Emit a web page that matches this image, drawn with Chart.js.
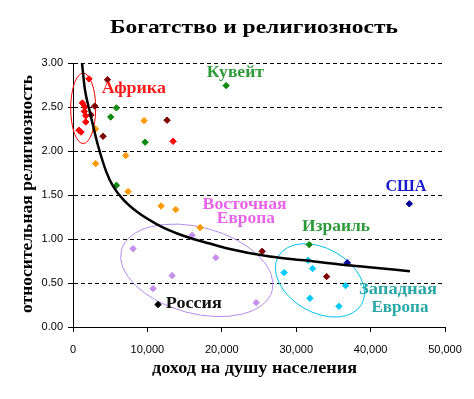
<!DOCTYPE html>
<html><head><meta charset="utf-8">
<script src="https://cdn.jsdelivr.net/npm/chart.js@4/dist/chart.umd.min.js"></script>
<style>html,body{margin:0;padding:0;background:#fff}#wrap{width:474px;height:399px}</style>
</head><body><div id="wrap"><canvas id="c" width="474" height="399"></canvas></div>
<script>
// ---- data ----
const africaX = [2150, 1260, 1610, 1530, 1710, 1710, 810, 1080, 13450];
const africaY = [2.82, 2.545, 2.50, 2.45, 2.40, 2.33, 2.235, 2.215, 2.11];
const darkRedX = [4630, 2920, 2420, 4040, 12640, 25420, 34090];
const darkRedY = [2.81, 2.51, 2.41, 2.167, 2.35, 0.86, 0.573];
const greenX = [5840, 5070, 9690, 5840, 20580, 31750];
const greenY = [2.49, 2.386, 2.10, 1.61, 2.743, 0.936];
const orangeX = [9550, 3010, 7090, 3050, 7400, 11840, 13810, 17080];
const orangeY = [2.345, 2.25, 1.948, 1.857, 1.539, 1.375, 1.334, 1.13];
const eastEuropeX = [16010, 8070, 13320, 10760, 19200, 24620];
const eastEuropeY = [1.042, 0.89, 0.584, 0.436, 0.788, 0.277];
const russiaX = [11430];
const russiaY = [0.255];
const westEuropeX = [28380, 31610, 32200, 31840, 35740, 36640];
const westEuropeY = [0.618, 0.758, 0.664, 0.326, 0.235, 0.47];
const usaX = [45200, 36860];
const usaY = [1.40, 0.73];
const trendX = [1210, 1580, 2250, 2830, 3370, 4490, 5380, 6730, 8740, 11220, 13450, 16140, 18390, 20630, 26460, 31400, 35880, 39470, 45290];
const trendY = [3.0, 2.71, 2.45, 2.24, 2.06, 1.76, 1.60, 1.45, 1.30, 1.17, 1.08, 1.0, 0.948, 0.895, 0.80, 0.755, 0.71, 0.682, 0.633];
const yTicks = [0, 0.5, 1, 1.5, 2, 2.5, 3];
const xTicks = [0, 10000, 20000, 30000, 40000, 50000];

const titleText = 'Богатство и религиозность';
const xTitle = 'доход на душу населения';
const yTitle = 'относительная религиозность';

const pts = (xs, ys) => xs.map((x, i) => ({x: x, y: ys[i]}));
const scatterDs = (label, xs, ys, color) => ({
  type: 'scatter', label: label, data: pts(xs, ys), order: 1,
  pointStyle: 'rectRot', pointRadius: 3.2, pointBorderWidth: 1,
  backgroundColor: color, borderColor: color, showLine: false
});

const SERIF = '"Liberation Serif", "DejaVu Serif", serif';

function fitText(ctx, text, x, y, size, width, color, align) {
  ctx.save();
  ctx.font = 'bold ' + size + 'px ' + SERIF;
  const w = ctx.measureText(text).width;
  const s = width / w;
  ctx.translate(x, y);
  ctx.scale(s, 1);
  ctx.fillStyle = color;
  ctx.textAlign = align || 'center';
  ctx.textBaseline = 'alphabetic';
  ctx.fillText(text, 0, 0);
  ctx.restore();
}

const notes = [
  {t: 'Африка', x: 8180, y: 2.656, w: 64, c: '#ff1a1a'},
  {t: 'Кувейт', x: 21820, y: 2.837, w: 57, c: '#2e9a3a'},
  {t: 'США', x: 44750, y: 1.542, w: 41, c: '#1a1acc'},
  {t: 'Восточная', x: 23060, y: 1.3375, w: 84, c: '#e864e8'},
  {t: 'Европа', x: 23230, y: 1.178, w: 58, c: '#e864e8'},
  {t: 'Израиль', x: 35340, y: 1.0875, w: 68, c: '#2e9a3a'},
  {t: 'Россия', x: 12470, y: 0.2125, w: 56, c: '#111111', a: 'left'},
  {t: 'Западная', x: 43680, y: 0.3716, w: 78, c: '#2aa8a8'},
  {t: 'Европа', x: 43950, y: 0.167, w: 57, c: '#2aa8a8'}
];
const ellipses = [
  {cx: 1370, cy: 2.485, rx: 1680, ry: 0.40, rot: 0, c: '#ff0000'},
  {cx: 16640, cy: 0.644, rx: 10490, ry: 0.49, rot: 15, c: '#b48cf0'},
  {cx: 33190, cy: 0.53, rx: 6460, ry: 0.364, rot: 30, c: '#00c0ee'}
];

const annot = {
  id: 'annot',
  beforeDatasetsDraw(chart) {
    const {ctx, scales: {x, y}} = chart;
    ctx.save();
    ellipses.forEach(e => {
      const px = x.getPixelForValue(e.cx), py = y.getPixelForValue(e.cy);
      const rx = Math.abs(x.getPixelForValue(e.cx + e.rx) - px);
      const ry = Math.abs(y.getPixelForValue(e.cy + e.ry) - py);
      ctx.beginPath();
      ctx.ellipse(px, py, rx, ry, e.rot * Math.PI / 180, 0, Math.PI * 2);
      ctx.strokeStyle = e.c; ctx.lineWidth = 1; ctx.stroke();
    });
    ctx.restore();
  },
  afterDatasetsDraw(chart) {
    const {ctx, scales: {x, y}} = chart;
    notes.forEach(n => fitText(ctx, n.t, x.getPixelForValue(n.x), y.getPixelForValue(n.y), 17, n.w, n.c, n.a));
    fitText(ctx, titleText, 254, 33, 19, 288, '#000', 'center');
    fitText(ctx, xTitle, 254.5, 373, 16, 205, '#000', 'center');
    ctx.save();
    ctx.translate(32, 194);
    ctx.rotate(-Math.PI / 2);
    fitText(ctx, yTitle, 0, 0, 16, 238, '#000', 'center');
    ctx.restore();
  }
};

new Chart(document.getElementById('c'), {
  data: {
    datasets: [
      {type: 'line', label: 'trend', data: pts(trendX, trendY), order: 0,
       borderColor: '#000', borderWidth: 2.5, pointRadius: 0, cubicInterpolationMode: 'monotone', fill: false},
      scatterDs('Африка', africaX, africaY, '#ff0000'),
      scatterDs('dark', darkRedX, darkRedY, '#800000'),
      scatterDs('green', greenX, greenY, '#108a10'),
      scatterDs('orange', orangeX, orangeY, '#ff9900'),
      scatterDs('Восточная Европа', eastEuropeX, eastEuropeY, '#c490ec'),
      scatterDs('Россия', russiaX, russiaY, '#000000'),
      scatterDs('Западная Европа', westEuropeX, westEuropeY, '#00c8f8'),
      scatterDs('США', usaX, usaY, '#000099')
    ]
  },
  options: {
    responsive: false, animation: false, devicePixelRatio: 1,
    layout: {padding: {left: 0, top: 63, right: 29, bottom: 0}},
    plugins: {legend: {display: false}, tooltip: {enabled: false}, title: {display: false}},
    scales: {
      x: {
        type: 'linear', min: 0, max: 50000,
        afterFit(s) { s.height = 72; },
        afterBuildTicks(s) { s.ticks = xTicks.map(v => ({value: v})); },
        ticks: {color: '#000', font: {family: '"Liberation Sans", Arial, sans-serif', size: 11}, padding: 11,
                maxRotation: 0, callback: v => v.toLocaleString('en-US')},
        grid: {drawOnChartArea: false, drawTicks: true, tickLength: 5, color: '#000', lineWidth: 1},
        border: {display: true, color: '#000', width: 1}
      },
      y: {
        type: 'linear', min: 0, max: 3,
        afterFit(s) { s.width = 73; },
        afterBuildTicks(s) { s.ticks = yTicks.map(v => ({value: v})); },
        ticks: {color: '#000', font: {family: '"Liberation Sans", Arial, sans-serif', size: 11}, padding: 5,
                callback: v => v.toFixed(2)},
        grid: {drawOnChartArea: true, drawTicks: true, tickLength: 5, color: '#000', lineWidth: 1},
        border: {display: true, color: '#000', width: 1, dash: [4, 3]}
      }
    }
  },
  plugins: [annot]
});
</script>
</body></html>
